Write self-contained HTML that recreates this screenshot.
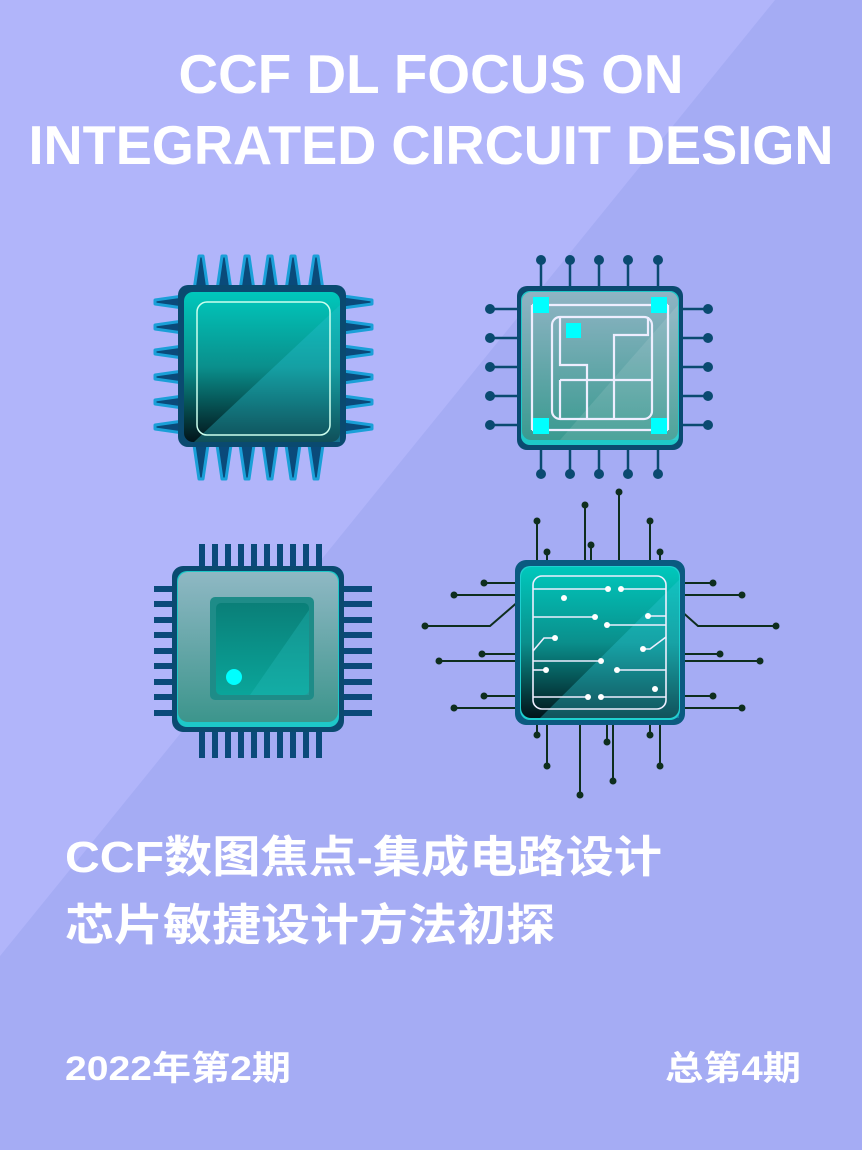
<!DOCTYPE html>
<html><head><meta charset="utf-8"><style>html,body{margin:0;padding:0}svg{display:block}</style></head><body>
<svg width="862" height="1150" viewBox="0 0 862 1150" xmlns="http://www.w3.org/2000/svg">
<defs>
<linearGradient id="g1" x1="0" y1="0" x2="0" y2="1"><stop offset="0" stop-color="#00c8bc"/><stop offset="0.5" stop-color="#0a8f8c"/><stop offset="1" stop-color="#02141a"/></linearGradient>
<linearGradient id="g2" x1="0" y1="0" x2="0" y2="1"><stop offset="0" stop-color="#8fb4c4"/><stop offset="1" stop-color="#3a9a90"/></linearGradient>
<linearGradient id="g3" x1="0" y1="0" x2="0" y2="1"><stop offset="0" stop-color="#8fb8c4"/><stop offset="1" stop-color="#3c958c"/></linearGradient>
<linearGradient id="g4" x1="0" y1="0" x2="0" y2="1"><stop offset="0" stop-color="#0a7f78"/><stop offset="1" stop-color="#0aa59a"/></linearGradient>
</defs>
<rect width="862" height="1150" fill="#a5acf4"/>
<polygon points="0,0 775,0 0,956" fill="#b1b5fa"/>
<g font-family="Liberation Sans, sans-serif" font-weight="bold" fill="#fff">
<text x="431" y="93" font-size="55" text-anchor="middle" textLength="505" lengthAdjust="spacingAndGlyphs">CCF DL FOCUS ON</text>
<text x="431" y="164" font-size="55" text-anchor="middle" textLength="805" lengthAdjust="spacingAndGlyphs">INTEGRATED CIRCUIT DESIGN</text>
</g>
<g font-family="Liberation Sans, 'Noto Sans CJK SC', sans-serif" font-weight="bold" fill="#fff">
<text x="65" y="872" font-size="44" textLength="597" lengthAdjust="spacingAndGlyphs">CCF数图焦点-集成电路设计</text>
<text x="65" y="940" font-size="44" textLength="490" lengthAdjust="spacingAndGlyphs">芯片敏捷设计方法初探</text>
<text x="65" y="1080" font-size="34" textLength="226" lengthAdjust="spacingAndGlyphs">2022年第2期</text>
<text x="665" y="1080" font-size="34" textLength="136" lengthAdjust="spacingAndGlyphs">总第4期</text>
</g>
<!-- chip 1 -->
<g>
<g fill="#0a4a7a" stroke="#1aa0d8" stroke-width="3" stroke-linejoin="round">
<path d="M194,290 L199,256 L203,256 L208,290Z"/><path d="M217,290 L222,256 L226,256 L231,290Z"/><path d="M240,290 L245,256 L249,256 L254,290Z"/><path d="M263,290 L268,256 L272,256 L277,290Z"/><path d="M286,290 L291,256 L295,256 L300,290Z"/><path d="M309,290 L314,256 L318,256 L323,290Z"/>
<path d="M194,445 L199,479 L203,479 L208,445Z"/><path d="M217,445 L222,479 L226,479 L231,445Z"/><path d="M240,445 L245,479 L249,479 L254,445Z"/><path d="M263,445 L268,479 L272,479 L277,445Z"/><path d="M286,445 L291,479 L295,479 L300,445Z"/><path d="M309,445 L314,479 L318,479 L323,445Z"/>
<path d="M183,296 L155,300 L155,304 L183,308Z"/><path d="M183,321 L155,325 L155,329 L183,333Z"/><path d="M183,346 L155,350 L155,354 L183,358Z"/><path d="M183,371 L155,375 L155,379 L183,383Z"/><path d="M183,396 L155,400 L155,404 L183,408Z"/><path d="M183,421 L155,425 L155,429 L183,433Z"/>
<path d="M343,296 L372,300 L372,304 L343,308Z"/><path d="M343,321 L372,325 L372,329 L343,333Z"/><path d="M343,346 L372,350 L372,354 L343,358Z"/><path d="M343,371 L372,375 L372,379 L343,383Z"/><path d="M343,396 L372,400 L372,404 L343,408Z"/><path d="M343,421 L372,425 L372,429 L343,433Z"/>
</g>
<rect x="178" y="285" width="168" height="162" rx="10" fill="#0a4a70"/>
<rect x="184" y="292" width="156" height="150" rx="9" fill="url(#g1)"/>
<polygon points="340,305 340,442 194,442" fill="#2ac0d0" opacity="0.35"/>
<rect x="197" y="302" width="133" height="133" rx="10" fill="none" stroke="#cfe" stroke-width="1.5"/>
</g>
<!-- chip 2 -->
<g stroke="#0a4a70" stroke-width="2.5" fill="#0a4a70">
<g><line x1="541" y1="260" x2="541" y2="290"/><line x1="570" y1="260" x2="570" y2="290"/><line x1="599" y1="260" x2="599" y2="290"/><line x1="628" y1="260" x2="628" y2="290"/><line x1="658" y1="260" x2="658" y2="290"/>
<line x1="541" y1="448" x2="541" y2="474"/><line x1="570" y1="448" x2="570" y2="474"/><line x1="599" y1="448" x2="599" y2="474"/><line x1="628" y1="448" x2="628" y2="474"/><line x1="658" y1="448" x2="658" y2="474"/>
<line x1="490" y1="309" x2="520" y2="309"/><line x1="490" y1="338" x2="520" y2="338"/><line x1="490" y1="367" x2="520" y2="367"/><line x1="490" y1="396" x2="520" y2="396"/><line x1="490" y1="425" x2="520" y2="425"/>
<line x1="680" y1="309" x2="708" y2="309"/><line x1="680" y1="338" x2="708" y2="338"/><line x1="680" y1="367" x2="708" y2="367"/><line x1="680" y1="396" x2="708" y2="396"/><line x1="680" y1="425" x2="708" y2="425"/></g>
<g stroke="none"><circle cx="541" cy="260" r="5"/><circle cx="570" cy="260" r="5"/><circle cx="599" cy="260" r="5"/><circle cx="628" cy="260" r="5"/><circle cx="658" cy="260" r="5"/>
<circle cx="541" cy="474" r="5"/><circle cx="570" cy="474" r="5"/><circle cx="599" cy="474" r="5"/><circle cx="628" cy="474" r="5"/><circle cx="658" cy="474" r="5"/>
<circle cx="490" cy="309" r="5"/><circle cx="490" cy="338" r="5"/><circle cx="490" cy="367" r="5"/><circle cx="490" cy="396" r="5"/><circle cx="490" cy="425" r="5"/>
<circle cx="708" cy="309" r="5"/><circle cx="708" cy="338" r="5"/><circle cx="708" cy="367" r="5"/><circle cx="708" cy="396" r="5"/><circle cx="708" cy="425" r="5"/></g>
</g>
<rect x="517" y="286" width="166" height="164" rx="10" fill="#0a4a70"/>
<rect x="521" y="291" width="158" height="154" rx="9" fill="#1ec8c8"/>
<rect x="522" y="292" width="156" height="148" rx="9" fill="url(#g2)"/>
<polygon points="678,305 678,440 560,440" fill="#fff" opacity="0.1"/>
<g fill="none" stroke="#eef" stroke-width="2.2">
<line x1="532" y1="305" x2="668" y2="305"/><line x1="532" y1="430" x2="668" y2="430"/>
<line x1="532" y1="305" x2="532" y2="430"/><line x1="668" y1="305" x2="668" y2="430"/>
<rect x="552" y="317" width="100" height="102" rx="8"/>
<polyline points="560,317 560,365 587,365 587,419"/>
<polyline points="648,317 648,335 614,335 614,419"/>
<line x1="560" y1="380" x2="652" y2="380"/><line x1="560" y1="380" x2="560" y2="419"/>
</g>
<g fill="#00ffff"><rect x="533" y="297" width="16" height="16"/><rect x="651" y="297" width="16" height="16"/><rect x="533" y="418" width="16" height="16"/><rect x="651" y="418" width="16" height="16"/><rect x="566" y="323" width="15" height="15"/></g>
<!-- chip 3 -->
<g fill="#0a4a7a">
<rect x="199" y="544" width="6" height="30"/><rect x="212" y="544" width="6" height="30"/><rect x="225" y="544" width="6" height="30"/><rect x="238" y="544" width="6" height="30"/><rect x="251" y="544" width="6" height="30"/><rect x="264" y="544" width="6" height="30"/><rect x="277" y="544" width="6" height="30"/><rect x="290" y="544" width="6" height="30"/><rect x="303" y="544" width="6" height="30"/><rect x="316" y="544" width="6" height="30"/>
<rect x="199" y="725" width="6" height="33"/><rect x="212" y="725" width="6" height="33"/><rect x="225" y="725" width="6" height="33"/><rect x="238" y="725" width="6" height="33"/><rect x="251" y="725" width="6" height="33"/><rect x="264" y="725" width="6" height="33"/><rect x="277" y="725" width="6" height="33"/><rect x="290" y="725" width="6" height="33"/><rect x="303" y="725" width="6" height="33"/><rect x="316" y="725" width="6" height="33"/>
<rect x="154" y="586" width="30" height="6"/><rect x="154" y="601" width="30" height="6"/><rect x="154" y="617" width="30" height="6"/><rect x="154" y="632" width="30" height="6"/><rect x="154" y="648" width="30" height="6"/><rect x="154" y="663" width="30" height="6"/><rect x="154" y="679" width="30" height="6"/><rect x="154" y="694" width="30" height="6"/><rect x="154" y="710" width="30" height="6"/>
<rect x="340" y="586" width="32" height="6"/><rect x="340" y="601" width="32" height="6"/><rect x="340" y="617" width="32" height="6"/><rect x="340" y="632" width="32" height="6"/><rect x="340" y="648" width="32" height="6"/><rect x="340" y="663" width="32" height="6"/><rect x="340" y="679" width="32" height="6"/><rect x="340" y="694" width="32" height="6"/><rect x="340" y="710" width="32" height="6"/>
</g>
<rect x="172" y="566" width="172" height="166" rx="11" fill="#0a4a70"/>
<rect x="177" y="571" width="162" height="156" rx="10" fill="#1ec8c8"/>
<rect x="178" y="572" width="160" height="150" rx="10" fill="url(#g3)"/>
<rect x="210" y="597" width="104" height="103" rx="5" fill="#1e8c88"/>
<rect x="216" y="603" width="93" height="92" rx="5" fill="url(#g4)"/>
<polygon points="309,610 309,695 250,695" fill="#2ac0c0" opacity="0.3"/>
<circle cx="234" cy="677" r="8" fill="#00ffff"/>
<!-- chip 4 -->
<g stroke="#0e2e1e" stroke-width="2" fill="none">
<line x1="537" y1="521" x2="537" y2="565"/><line x1="547" y1="552" x2="547" y2="565"/><line x1="585" y1="505" x2="585" y2="565"/><line x1="591" y1="545" x2="591" y2="565"/><line x1="619" y1="492" x2="619" y2="565"/><line x1="650" y1="521" x2="650" y2="565"/><line x1="660" y1="552" x2="660" y2="565"/>
<line x1="537" y1="720" x2="537" y2="735"/><line x1="547" y1="720" x2="547" y2="766"/><line x1="580" y1="720" x2="580" y2="795"/><line x1="607" y1="720" x2="607" y2="742"/><line x1="613" y1="720" x2="613" y2="781"/><line x1="650" y1="720" x2="650" y2="735"/><line x1="660" y1="720" x2="660" y2="766"/>
<line x1="484" y1="583" x2="520" y2="583"/><line x1="454" y1="595" x2="520" y2="595"/><polyline points="425,626 490,626 520,600"/><line x1="482" y1="654" x2="520" y2="654"/><line x1="439" y1="661" x2="520" y2="661"/><line x1="484" y1="696" x2="520" y2="696"/><line x1="454" y1="708" x2="520" y2="708"/>
<line x1="680" y1="583" x2="713" y2="583"/><line x1="680" y1="595" x2="742" y2="595"/><polyline points="680,610 698,626 776,626"/><line x1="680" y1="654" x2="720" y2="654"/><line x1="680" y1="661" x2="760" y2="661"/><line x1="680" y1="696" x2="713" y2="696"/><line x1="680" y1="708" x2="742" y2="708"/>
</g>
<g fill="#0e2e1e">
<circle cx="537" cy="521" r="3.5"/><circle cx="547" cy="552" r="3.5"/><circle cx="585" cy="505" r="3.5"/><circle cx="591" cy="545" r="3.5"/><circle cx="619" cy="492" r="3.5"/><circle cx="650" cy="521" r="3.5"/><circle cx="660" cy="552" r="3.5"/>
<circle cx="537" cy="735" r="3.5"/><circle cx="547" cy="766" r="3.5"/><circle cx="580" cy="795" r="3.5"/><circle cx="607" cy="742" r="3.5"/><circle cx="613" cy="781" r="3.5"/><circle cx="650" cy="735" r="3.5"/><circle cx="660" cy="766" r="3.5"/>
<circle cx="484" cy="583" r="3.5"/><circle cx="454" cy="595" r="3.5"/><circle cx="425" cy="626" r="3.5"/><circle cx="482" cy="654" r="3.5"/><circle cx="439" cy="661" r="3.5"/><circle cx="484" cy="696" r="3.5"/><circle cx="454" cy="708" r="3.5"/>
<circle cx="713" cy="583" r="3.5"/><circle cx="742" cy="595" r="3.5"/><circle cx="776" cy="626" r="3.5"/><circle cx="720" cy="654" r="3.5"/><circle cx="760" cy="661" r="3.5"/><circle cx="713" cy="696" r="3.5"/><circle cx="742" cy="708" r="3.5"/>
</g>
<rect x="515" y="560" width="170" height="165" rx="11" fill="#0a5a80"/>
<rect x="520" y="566" width="160" height="154" rx="10" fill="#1ed0d0"/>
<rect x="521" y="567" width="158" height="151" rx="10" fill="url(#g1)"/>
<polygon points="679,580 679,718 540,718" fill="#30c8d8" opacity="0.35"/>
<g fill="none" stroke="#eef" stroke-width="1.6">
<rect x="533" y="576" width="133" height="133" rx="9"/>
<line x1="533" y1="589" x2="608" y2="589"/><line x1="621" y1="589" x2="666" y2="589"/>
<line x1="533" y1="617" x2="595" y2="617"/><line x1="607" y1="625" x2="666" y2="625"/><line x1="648" y1="616" x2="666" y2="616"/>
<polyline points="533,651 544,638 555,638"/><polyline points="643,649 650,649 666,637"/>
<line x1="533" y1="661" x2="601" y2="661"/><line x1="533" y1="670" x2="546" y2="670"/><line x1="617" y1="670" x2="666" y2="670"/>
<line x1="533" y1="697" x2="588" y2="697"/><line x1="601" y1="697" x2="666" y2="697"/>
</g>
<g fill="#fff">
<circle cx="608" cy="589" r="3"/><circle cx="621" cy="589" r="3"/><circle cx="564" cy="598" r="3"/><circle cx="595" cy="617" r="3"/><circle cx="607" cy="625" r="3"/><circle cx="648" cy="616" r="3"/><circle cx="555" cy="638" r="3"/><circle cx="643" cy="649" r="3"/><circle cx="601" cy="661" r="3"/><circle cx="546" cy="670" r="3"/><circle cx="617" cy="670" r="3"/><circle cx="655" cy="689" r="3"/><circle cx="588" cy="697" r="3"/><circle cx="601" cy="697" r="3"/>
</g>
</svg>
</body></html>
